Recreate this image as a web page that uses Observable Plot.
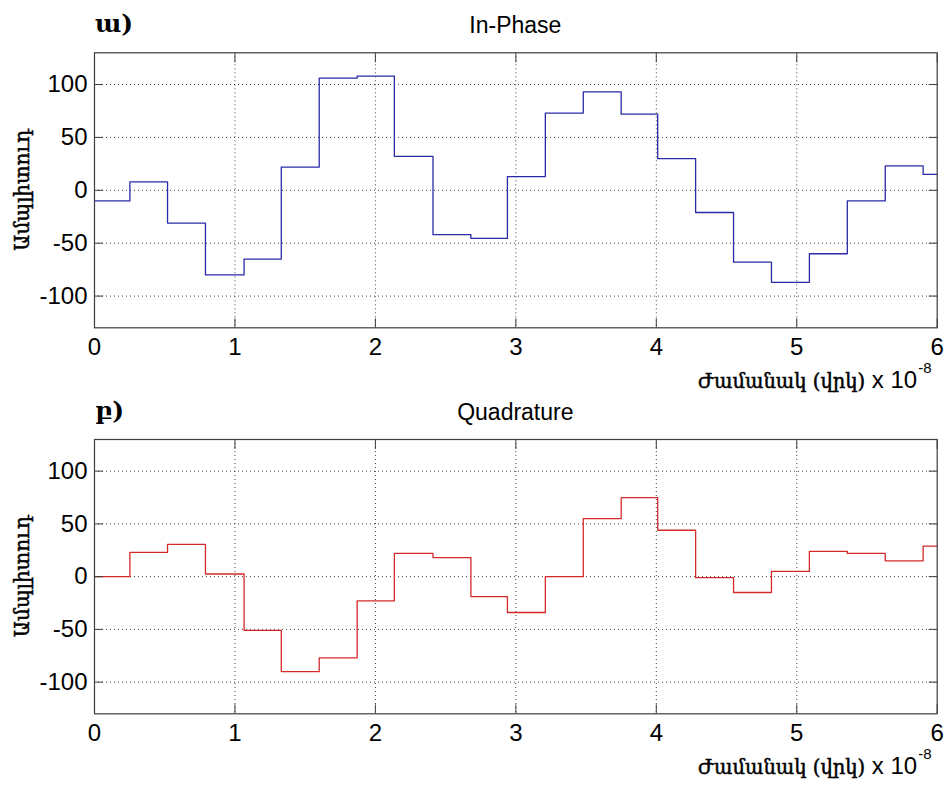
<!DOCTYPE html>
<html><head><meta charset="utf-8">
<script src="https://cdn.jsdelivr.net/npm/d3@7"></script>
<script src="https://cdn.jsdelivr.net/npm/@observablehq/plot@0.6"></script>
<style>
body{margin:0;background:#fff}
#chart{width:950px;height:789px;position:relative}
#chart svg{display:block;overflow:visible}
</style>
</head><body><div id="chart"></div>
<script>
// symbol start times (x 10^-8 s)
const symbolTimes = [0, 0.252, 0.52, 0.79, 1.065, 1.33, 1.6, 1.87, 2.135, 2.41, 2.68, 2.94, 3.21, 3.48, 3.75, 4.01, 4.28, 4.55, 4.82, 5.09, 5.36, 5.63, 5.9];
const timeEnd = 6;
const inPhase = [-10, 8, -31, -80, -65, 22, 106, 108, 32, -42, -45.5, 13, 73, 93, 72, 30, -21, -68, -87, -60, -10, 23, 15];
const quadrature = [0, 23, 30.5, 2.5, -51, -90, -77, -23, 22, 18, -19, -34, 0, 55, 75, 44, -1, -15, 5, 24, 22, 15, 29];
const xTicks = [0, 1, 2, 3, 4, 5, 6];
const xGrid = [1, 2, 3, 4, 5];
const yTicks = [-100, -50, 0, 50, 100];
const panelLetters = ["ա)", "բ)"];
const panelTitles = ["In-Phase", "Quadrature"];
const yLabel = "Ամպլիտուդ";
const xLabel = "Ժամանակ (վրկ)";
const xScaleText = " x 10";
const xExponent = "-8";

const panels = [
  {letter: panelLetters[0], title: panelTitles[0], values: inPhase, color: "#2a2aa8", height: 387, mt: 52.3, mb: 59.7},
  {letter: panelLetters[1], title: panelTitles[1], values: quadrature, color: "#d42a2a", height: 402, mt: 52, mb: 75.7}
];

function series(values) {
  const pts = symbolTimes.map((t, i) => ({t, v: values[i]}));
  pts.push({t: timeEnd, v: values[values.length - 1]});
  return pts;
}

const root = document.getElementById("chart");
const ML = 94, MR = 13.3;
const fmt = d => String(d);

for (const p of panels) {
  const svg = Plot.plot({
    width: 950, height: p.height,
    marginLeft: ML, marginRight: MR, marginTop: p.mt, marginBottom: p.mb,
    x: {domain: [0, timeEnd]},
    y: {domain: [-130, 130]},
    style: {fontFamily: "'Liberation Sans', Arial, sans-serif", fontSize: "24px", color: "#000", background: "transparent", overflow: "visible"},
    marks: [
      Plot.gridX(xGrid, {stroke: "#000", strokeOpacity: 0.75, strokeDasharray: "1,3"}),
      Plot.gridY(yTicks, {stroke: "#000", strokeOpacity: 0.75, strokeDasharray: "1,3"}),
      Plot.line(series(p.values), {x: "t", y: "v", curve: "step-after", stroke: p.color, strokeWidth: 1.3}),
      Plot.frame({stroke: "#3c3c3c", strokeWidth: 1.2}),
      Plot.axisX(xTicks, {anchor: "bottom", tickSize: 0, tickPadding: 10, label: null, fontSize: 24, tickFormat: fmt}),
      Plot.axisX(xTicks, {anchor: "bottom", tickSize: 9, dy: -9, text: null, label: null, stroke: "#3c3c3c"}),
      Plot.axisX(xTicks, {anchor: "top", tickSize: 9, dy: 9, text: null, label: null, stroke: "#3c3c3c"}),
      Plot.axisY(yTicks, {anchor: "left", tickSize: 0, tickPadding: 7, label: null, fontSize: 24, tickFormat: fmt}),
      Plot.axisY(yTicks, {anchor: "left", tickSize: 9, dx: 9, text: null, label: null, stroke: "#3c3c3c"}),
      Plot.axisY(yTicks, {anchor: "right", tickSize: 9, dx: -9, text: null, label: null, stroke: "#3c3c3c"})
    ]
  });
  root.appendChild(svg);
  const s = d3.select(svg);
  const frameCx = ML + (950 - ML - MR) / 2;
  // panel letter
  s.append("text").attr("x", 95).attr("y", 32)
    .attr("font-family", "'DejaVu Serif', serif").attr("font-size", 25).attr("font-weight", "bold")
    .attr("text-anchor", "start").attr("fill", "#000").text(p.letter);
  // title
  s.append("text").attr("x", frameCx).attr("y", 33)
    .attr("font-family", "'Liberation Sans', Arial, sans-serif").attr("font-size", 23)
    .attr("text-anchor", "middle").attr("fill", "#000").text(p.title);
  // y label
  const zeroY = p.mt + (p.height - p.mt - p.mb) / 2;
  s.append("text").attr("transform", `translate(22,${zeroY}) rotate(-90)`)
    .attr("font-family", "'DejaVu Serif', serif").attr("font-size", 21)
    .attr("text-anchor", "middle").attr("dominant-baseline", "central")
    .attr("textLength", 122).attr("lengthAdjust", "spacingAndGlyphs")
    .attr("fill", "#000").attr("stroke", "#000").attr("stroke-width", 0.5).text(yLabel);
  // x label
  const bottom = p.height - p.mb;
  const by = bottom + 61;
  const t = s.append("text").attr("x", 698).attr("y", by).attr("text-anchor", "start").attr("fill", "#000");
  t.append("tspan").attr("font-family", "'DejaVu Serif', serif").attr("font-size", 19.5)
    .attr("stroke", "#000").attr("stroke-width", 0.5).text(xLabel);
  t.append("tspan").attr("font-family", "'Liberation Sans', Arial, sans-serif").attr("font-size", 24).text(xScaleText);
  t.append("tspan").attr("font-family", "'Liberation Sans', Arial, sans-serif").attr("font-size", 15).attr("dx", 1).attr("dy", -15).text(xExponent);
}
</script>
</body></html>
